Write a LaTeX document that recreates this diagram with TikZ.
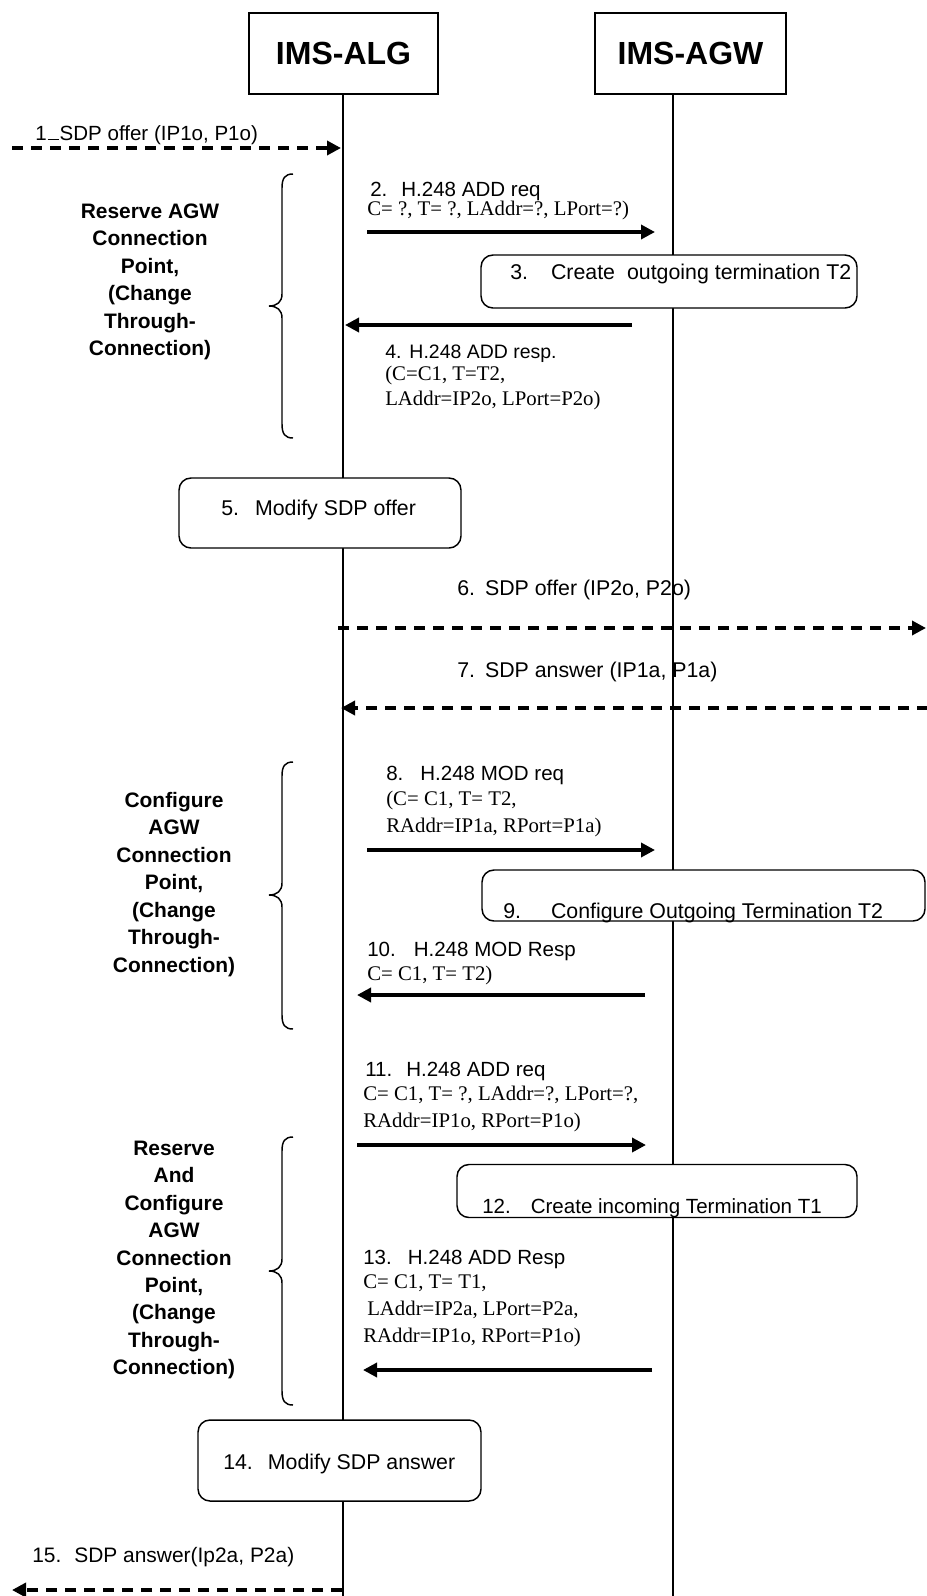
\documentclass[tikz,border=0pt]{standalone}
\usepackage{fontspec}
\setmainfont{Liberation Sans}
\newfontfamily\tmsfont{Liberation Serif}
\usetikzlibrary{arrows.meta}
\newlength\pxu
\setlength\pxu{0.75pt}
\newcommand\gp[1]{\hspace*{#1\pxu}}
\newcommand\grpbrace[3]{%
  \draw[bracel] (293,#1) .. controls (285,#1) and (282,#1+4) .. (282,#1+14)
    -- (282,#2-12) .. controls (282,#2-4) and (277,#2) .. (269,#2)
    .. controls (277,#2) and (282,#2+4) .. (282,#2+12)
    -- (282,#3-14) .. controls (282,#3-4) and (285,#3) .. (293,#3);}
\begin{document}
\begin{tikzpicture}[x=0.75pt,y=-0.75pt,
  lifeln/.style={line width=1.1pt},
  bracel/.style={line width=1.1pt},
  hdbox/.style={draw,line width=1.1pt,fill=white,inner sep=0pt,font=\bfseries\fontsize{24}{28}\selectfont},
  rbox/.style={draw,line width=1.1pt,fill=white,rounded corners=9pt,inner sep=0pt},
  msg/.style={line width=2.6pt,-{Triangle[length=10.5pt,width=10.5pt]}},
  dmsg/.style={msg,dash pattern=on 8.25pt off 6pt},
  sl/.style={anchor=base west,inner sep=0pt,font=\fontsize{15.4}{18}\selectfont},
  bl/.style={sl,font=\fontsize{16}{18}\selectfont},
  tl/.style={anchor=base west,inner sep=0pt,font=\tmsfont\fontsize{15.6}{18}\selectfont},
  grp/.style={align=center,inner sep=0pt,font=\bfseries\fontsize{15.7}{20.6}\selectfont}
]
\useasboundingbox (0,0) rectangle (927,1596);

% lifelines
\coordinate (algtop) at (343,94);
\coordinate (algbot) at (343,1596);
\coordinate (agwtop) at (673,94);
\coordinate (agwbot) at (673,1596);
\draw[lifeln] (algtop) -- (algbot);
\draw[lifeln] (agwtop) -- (agwbot);

% headers
\node[hdbox,minimum width=189\pxu,minimum height=81\pxu] (alg) at (343.5,53.5) {IMS-ALG};
\node[hdbox,minimum width=191\pxu,minimum height=81\pxu] (agw) at (690.5,53.5) {IMS-AGW};

% action boxes
\node[rbox,minimum width=376\pxu,minimum height=53\pxu] (b3) at (669,281.5) {};
\node[rbox,minimum width=282\pxu,minimum height=70\pxu] (b5) at (320,513) {};
\node[rbox,minimum width=443\pxu,minimum height=51\pxu] (b9) at (703.5,895.5) {};
\node[rbox,minimum width=400\pxu,minimum height=53\pxu] (b12) at (657,1191) {};
\node[rbox,minimum width=283\pxu,minimum height=81\pxu] (b14) at (339.5,1460.5) {};

\node[bl] (t3) at (510,279) {3.\gp{23}Create\gp{12}outgoing termination T2};
\node[bl] (t5) at (221,515) {5.\gp{16}Modify SDP offer};
\node[bl] (t9) at (503,918) {9.\gp{30}Configure Outgoing Termination T2};
\node[sl] (t12) at (482,1213) {12.\gp{20}Create incoming Termination T1};
\node[bl] (t14) at (223,1469) {14.\gp{15}Modify SDP answer};

% braces and group labels
\grpbrace{174}{306}{438}
\grpbrace{762}{895}{1029}
\grpbrace{1137}{1271}{1405}
\node[grp] (g1) at (150,282) {Reserve AGW\\Connection\\Point,\\(Change\\Through-\\Connection)};
\node[grp] (g2) at (174,884.5) {Configure\\AGW\\Connection\\Point,\\(Change\\Through-\\Connection)};
\node[grp] (g3) at (174,1260) {Reserve\\And\\Configure\\AGW\\Connection\\Point,\\(Change\\Through-\\Connection)};

% message end points
\coordinate (m1s) at (12,148);   \coordinate (m1e) at (341,148);
\coordinate (m2s) at (367,232);  \coordinate (m2e) at (655,232);
\coordinate (m4s) at (632,325);  \coordinate (m4e) at (345,325);
\coordinate (m6s) at (338,628);  \coordinate (m6e) at (926,628);
\coordinate (m7s) at (928,708);  \coordinate (m7e) at (341,708);
\coordinate (m8s) at (367,850);  \coordinate (m8e) at (655,850);
\coordinate (m10s) at (645,995); \coordinate (m10e) at (357,995);
\coordinate (m11s) at (357,1145); \coordinate (m11e) at (646,1145);
\coordinate (m13s) at (652,1370); \coordinate (m13e) at (363,1370);
\coordinate (m15s) at (342,1590); \coordinate (m15e) at (12,1590);

\draw[dmsg] (m1s) -- (m1e);
\draw[msg] (m2s) -- (m2e);
\draw[msg] (m4s) -- (m4e);
\draw[dmsg] (m6s) -- (m6e);
\draw[dmsg] (m7s) -- (m7e);
\draw[msg] (m8s) -- (m8e);
\draw[msg] (m10s) -- (m10e);
\draw[msg] (m11s) -- (m11e);
\draw[msg] (m13s) -- (m13e);
\draw[dmsg] (m15s) -- (m15e);

% message labels
\node[sl] (t1) at (35,140) {1\gp{1}\rule{11\pxu}{0.8pt}\gp{1}SDP offer (IP1o, P1o)};
\node[sl] (t2a) at (370,196) {2.\gp{14}H.248 ADD req};
\node[tl] (t2b) at (367,215) {C= ?, T= ?, LAddr=?, LPort=?)};
\node[sl,font=\fontsize{14.6}{18}\selectfont] (t4a) at (385,358) {4.\gp{8}H.248 ADD resp.};
\node[tl] (t4b) at (385,380) {(C=C1, T=T2,};
\node[tl] (t4c) at (385,405) {LAddr=IP2o, LPort=P2o)};
\node[bl] (t6) at (457,595) {6.\gp{10}SDP offer (IP2o, P2o)};
\node[bl] (t7) at (457,677) {7.\gp{10}SDP answer (IP1a, P1a)};
\node[sl] (t8a) at (386,780) {8.\gp{17}H.248 MOD req};
\node[tl] (t8b) at (386,805) {(C= C1, T= T2,};
\node[tl] (t8c) at (386,832) {RAddr=IP1a, RPort=P1a)};
\node[sl] (t10a) at (367,956) {10.\gp{18}H.248 MOD Resp};
\node[tl] (t10b) at (367,980) {C= C1, T= T2)};
\node[sl] (t11a) at (365,1076) {11.\gp{14}H.248 ADD req};
\node[tl] (t11b) at (363,1100) {C= C1, T= ?, LAddr=?, LPort=?,};
\node[tl] (t11c) at (363,1127) {RAddr=IP1o, RPort=P1o)};
\node[sl] (t13a) at (363,1264) {13.\gp{16}H.248 ADD Resp};
\node[tl] (t13b) at (363,1288) {C= C1, T= T1,};
\node[tl] (t13c) at (367,1315) {LAddr=IP2a, LPort=P2a,};
\node[tl] (t13d) at (363,1342) {RAddr=IP1o, RPort=P1o)};
\node[bl,font=\fontsize{15.7}{18}\selectfont] (t15) at (32,1562) {15.\gp{13}SDP answer(Ip2a, P2a)};
\end{tikzpicture}
\end{document}
